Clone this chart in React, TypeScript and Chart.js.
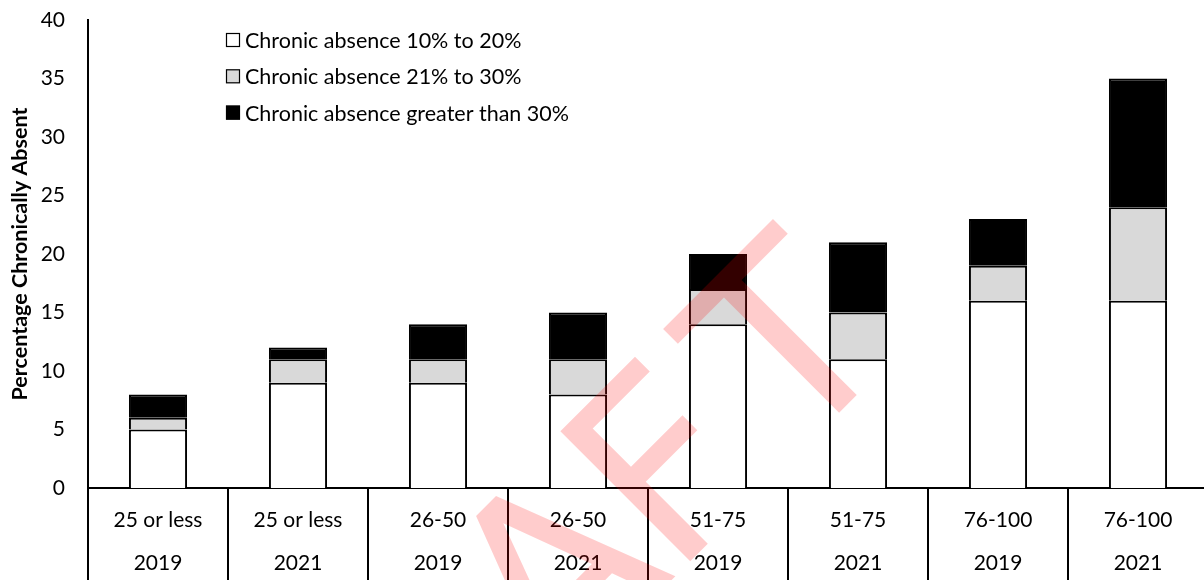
import { useEffect, useRef } from 'react';
import { Chart, registerables } from 'chart.js';

Chart.register(...registerables);

// ---- Data ----
const sizeGroups = ['25 or less', '25 or less', '26-50', '26-50', '51-75', '51-75', '76-100', '76-100'];
const years = ['2019', '2021', '2019', '2021', '2019', '2021', '2019', '2021'];
const absence10to20 = [5, 9, 9, 8, 14, 11, 16, 16];
const absence21to30 = [1, 2, 2, 3, 3, 4, 3, 8];
const absenceOver30 = [2, 1, 3, 4, 3, 6, 4, 11];
const seriesLabels = [
  'Chronic absence 10% to 20%',
  'Chronic absence 21% to 30%',
  'Chronic absence greater than 30%',
];
const seriesColors = ['#ffffff', '#d9d9d9', '#000000'];
const yAxisTitle = 'Percentage Chronically Absent';
const watermarkLetters = ['D', 'R', 'A', 'F', 'T'];

const FONT = 'Lato, "Open Sans", sans-serif';

const insideLegend = {
  id: 'insideLegend',
  afterDraw(chart: any) {
    const ctx = chart.ctx as CanvasRenderingContext2D;
    ctx.save();
    chart.data.datasets.forEach((ds: any, i: number) => {
      const y = 40 + i * 36.3;
      ctx.fillStyle = ds.backgroundColor;
      ctx.fillRect(226, y - 7, 14, 14);
      ctx.strokeStyle = '#000';
      ctx.lineWidth = 1.2;
      ctx.strokeRect(226.5, y - 6.5, 13, 13);
      ctx.fillStyle = '#000';
      ctx.font = `21.5px ${FONT}`;
      ctx.textBaseline = 'middle';
      ctx.textAlign = 'left';
      ctx.fillText(ds.label, 245, y + 1);
    });
    ctx.restore();
  },
};

// watermark: letters placed along a -45° baseline (u along baseline, v perpendicular)
const watermarkCenters = [-373, -188, -14, 139, 314];
const watermark = {
  id: 'watermark',
  afterDraw(chart: any) {
    const ctx = chart.ctx as CanvasRenderingContext2D;
    ctx.save();
    ctx.font = `252px "DejaVu Sans", sans-serif`;
    ctx.fillStyle = 'rgba(255,0,0,0.2)';
    ctx.textBaseline = 'alphabetic';
    ctx.textAlign = 'center';
    const s = Math.SQRT2;
    const v0 = 885;
    watermarkLetters.forEach((ch, i) => {
      const u = watermarkCenters[i];
      ctx.save();
      ctx.translate((u + v0) / s, (v0 - u) / s);
      ctx.rotate(-Math.PI / 4);
      ctx.fillText(ch, 0, 0);
      ctx.restore();
    });
    ctx.restore();
  },
};

export default function App() {
  const canvasRef = useRef<HTMLCanvasElement | null>(null);

  useEffect(() => {
    if (!canvasRef.current) return;
    const labels = sizeGroups.map((g, i) => [g, years[i]]);
    const values = [absence10to20, absence21to30, absenceOver30];
    const chart = new Chart(canvasRef.current, {
      type: 'bar',
      data: {
        labels,
        datasets: values.map((v, i) => ({
          label: seriesLabels[i],
          data: v,
          backgroundColor: seriesColors[i],
          borderColor: '#000000',
          borderWidth: 2,
          borderSkipped: 'start',
          barPercentage: 0.415,
          categoryPercentage: 1,
        })),
      },
      options: {
        animation: false,
        responsive: false,
        devicePixelRatio: 1,
        layout: { padding: { left: 0, right: 2, top: 20, bottom: 0 } },
        plugins: {
          legend: { display: false },
          tooltip: { enabled: false },
        },
        scales: {
          x: {
            stacked: true,
            grid: {
              display: true,
              drawOnChartArea: false,
              drawTicks: true,
              tickLength: 92,
              color: '#000000',
              lineWidth: 2,
              offset: true,
            },
            border: { display: true, color: '#000000', width: 2 },
            ticks: {
              color: '#000000',
              font: { family: FONT, size: 21, lineHeight: 43 / 21 },
              padding: -81.5,
              maxRotation: 0,
              autoSkip: false,
            },
            afterFit: (scale: any) => {
              scale.height = 92;
              scale.paddingLeft = 0;
              scale.paddingRight = 0;
            },
          },
          y: {
            stacked: true,
            min: 0,
            max: 40,
            grid: { display: false, drawTicks: false },
            border: { display: true, color: '#000000', width: 2 },
            ticks: {
              stepSize: 5,
              color: '#000000',
              font: { family: FONT, size: 21 },
              padding: 23,
            },
            title: {
              display: true,
              text: yAxisTitle,
              color: '#000000',
              font: { family: FONT, size: 21.5, weight: 'bold' },
              padding: { top: 7, bottom: 0 },
            },
            afterFit: (scale: any) => {
              scale.width = 88;
              scale.paddingTop = 0;
              scale.paddingBottom = 0;
            },
          },
        },
      },
      plugins: [insideLegend, watermark],
    });
    return () => chart.destroy();
  }, []);

  return (
    <div
      style={{
        position: 'fixed',
        left: 0,
        top: 0,
        width: 1204,
        height: 580,
        overflow: 'hidden',
        background: '#ffffff',
      }}
    >
      <canvas ref={canvasRef} width={1210} height={580} style={{ display: 'block' }} />
    </div>
  );
}
